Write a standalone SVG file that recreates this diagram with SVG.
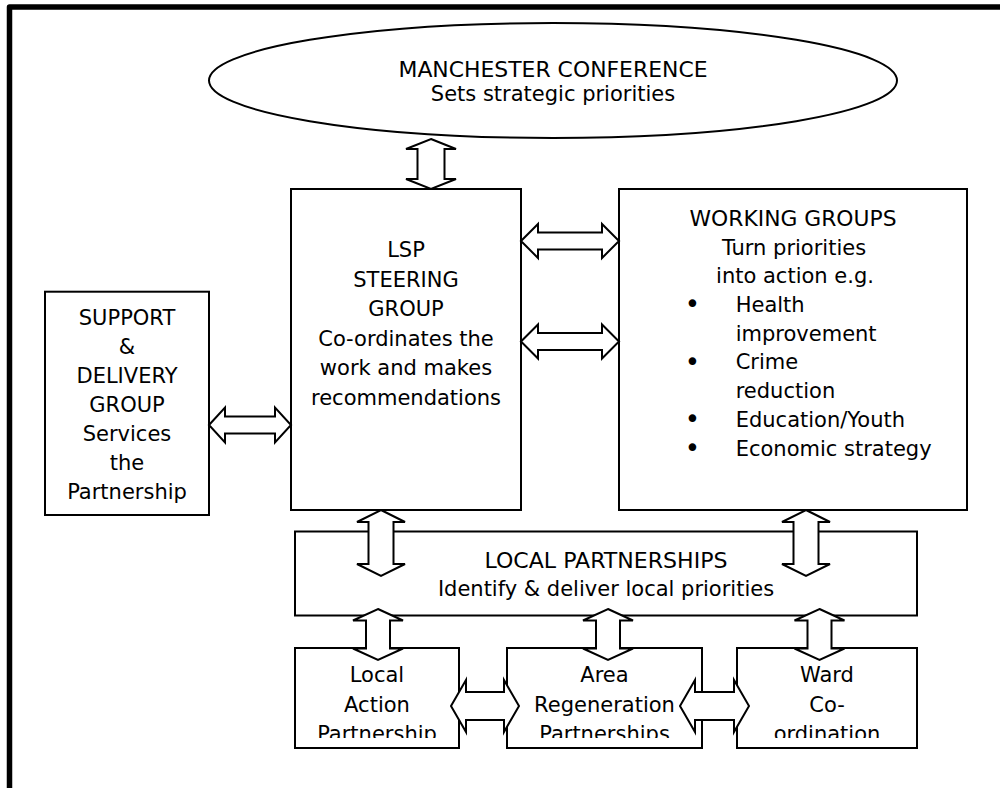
<svg xmlns="http://www.w3.org/2000/svg" width="1000" height="788" viewBox="0 0 1000 788">
<style>
.box{fill:#fff;stroke:#000;stroke-width:2}
.arr{fill:#fff;stroke:#000;stroke-width:2;stroke-linejoin:miter}
text{font-family:"DejaVu Sans",Verdana,sans-serif;font-size:21px;fill:#000}
.c{text-anchor:middle}
.b{font-size:26px;text-anchor:middle}
</style>
<defs>
<clipPath id="clipBottom" clipPathUnits="userSpaceOnUse"><rect x="0" y="640" width="1000" height="98"/></clipPath>
</defs>
<rect x="0" y="0" width="1000" height="788" fill="#fff"/>
<path d="M9.5 788 V7 H1000" fill="none" stroke="#000" stroke-width="5.5" stroke-linejoin="round"/>

<g id="manchester">
<ellipse cx="553" cy="80.5" rx="344" ry="57.5" class="box"/>
<text x="553" y="77" class="c" textLength="309" lengthAdjust="spacingAndGlyphs">MANCHESTER CONFERENCE</text>
<text x="553" y="101" class="c">Sets strategic priorities</text>
</g>

<g id="lsp">
<rect x="291" y="189" width="230" height="321" class="box"/>
<text x="406" y="257" class="c">LSP</text>
<text x="406" y="286.5" class="c">STEERING</text>
<text x="406" y="316" class="c">GROUP</text>
<text x="406" y="345.5" class="c">Co-ordinates the</text>
<text x="406" y="375" class="c">work and makes</text>
<text x="406" y="404.5" class="c">recommendations</text>
</g>

<g id="working">
<rect x="619" y="189" width="348" height="321" class="box"/>
<text x="793" y="225.7" class="c" textLength="207" lengthAdjust="spacingAndGlyphs">WORKING GROUPS</text>
<text x="794" y="254.5" class="c">Turn priorities</text>
<text x="795" y="283" class="c">into action e.g.</text>
<text x="692.5" y="313" class="b">•</text>
<text x="735.7" y="311.7">Health</text>
<text x="735.7" y="340.5">improvement</text>
<text x="692.5" y="370.5" class="b">•</text>
<text x="735.7" y="369">Crime</text>
<text x="735.7" y="398">reduction</text>
<text x="692.5" y="428" class="b">•</text>
<text x="735.7" y="426.7">Education/Youth</text>
<text x="692.5" y="457" class="b">•</text>
<text x="735.7" y="455.5">Economic strategy</text>
</g>

<g id="support">
<rect x="45" y="291.7" width="164" height="223.3" class="box"/>
<text x="127" y="325" class="c">SUPPORT</text>
<text x="127" y="353.5" class="c">&amp;</text>
<text x="127" y="383" class="c">DELIVERY</text>
<text x="127" y="412" class="c">GROUP</text>
<text x="127" y="441" class="c">Services</text>
<text x="127" y="470" class="c">the</text>
<text x="127" y="498.5" class="c">Partnership</text>
</g>

<g id="local-partnerships">
<rect x="295" y="531.5" width="622" height="84" class="box"/>
<text x="606" y="568" class="c" textLength="243" lengthAdjust="spacingAndGlyphs">LOCAL PARTNERSHIPS</text>
<text x="606" y="596" class="c">Identify &amp; deliver local priorities</text>
</g>

<g id="local-action">
<rect x="295" y="648" width="164" height="100" class="box"/>
<g clip-path="url(#clipBottom)">
<text x="377" y="682" class="c">Local</text>
<text x="377" y="712" class="c">Action</text>
<text x="377" y="741" class="c">Partnership</text>
</g>
</g>

<g id="area-regeneration">
<rect x="507" y="648" width="195" height="100" class="box"/>
<g clip-path="url(#clipBottom)">
<text x="604.5" y="682" class="c">Area</text>
<text x="604.5" y="712" class="c">Regeneration</text>
<text x="604.5" y="741" class="c">Partnerships</text>
</g>
</g>

<g id="ward">
<rect x="737" y="648" width="180" height="100" class="box"/>
<g clip-path="url(#clipBottom)">
<text x="827" y="682" class="c">Ward</text>
<text x="827" y="712" class="c">Co-</text>
<text x="827" y="741" class="c">ordination</text>
</g>
</g>

<g id="connectors">
<polygon class="arr" points="431,139 456,149 444.5,149 444.5,179 456,179 431,189 406,179 417.5,179 417.5,149 406,149"/>
<polygon class="arr" points="521,241 538,224 538,232.5 602,232.5 602,224 619,241 602,258 602,249.5 538,249.5 538,258"/>
<polygon class="arr" points="521,341.5 538,324.5 538,333 602,333 602,324.5 619,341.5 602,358.5 602,350 538,350 538,358.5"/>
<polygon class="arr" points="209,425 225,407.5 225,416.5 275,416.5 275,407.5 291,425 275,442.5 275,433.5 225,433.5 225,442.5"/>
<polygon class="arr" points="381,510 405,522 393.5,522 393.5,564 405,564 381,576 357,564 368.5,564 368.5,522 357,522"/>
<polygon class="arr" points="806,510 830,522 818.5,522 818.5,564 830,564 806,576 782,564 793.5,564 793.5,522 782,522"/>
<polygon class="arr" points="378,609 403,620.5 390,620.5 390,648.5 403,648.5 378,660 353,648.5 366,648.5 366,620.5 353,620.5"/>
<polygon class="arr" points="608,609 633,620.5 620,620.5 620,648.5 633,648.5 608,660 583,648.5 596,648.5 596,620.5 583,620.5"/>
<polygon class="arr" points="819.5,609 844.5,620.5 831.5,620.5 831.5,648.5 844.5,648.5 819.5,660 794.5,648.5 807.5,648.5 807.5,620.5 794.5,620.5"/>
<polygon class="arr" points="451,706 466,680 466,692 504,692 504,680 519,706 504,732 504,720 466,720 466,732"/>
<polygon class="arr" points="680,706 695,680 695,692 734,692 734,680 749,706 734,732 734,720 695,720 695,732"/>
</g>
</svg>
